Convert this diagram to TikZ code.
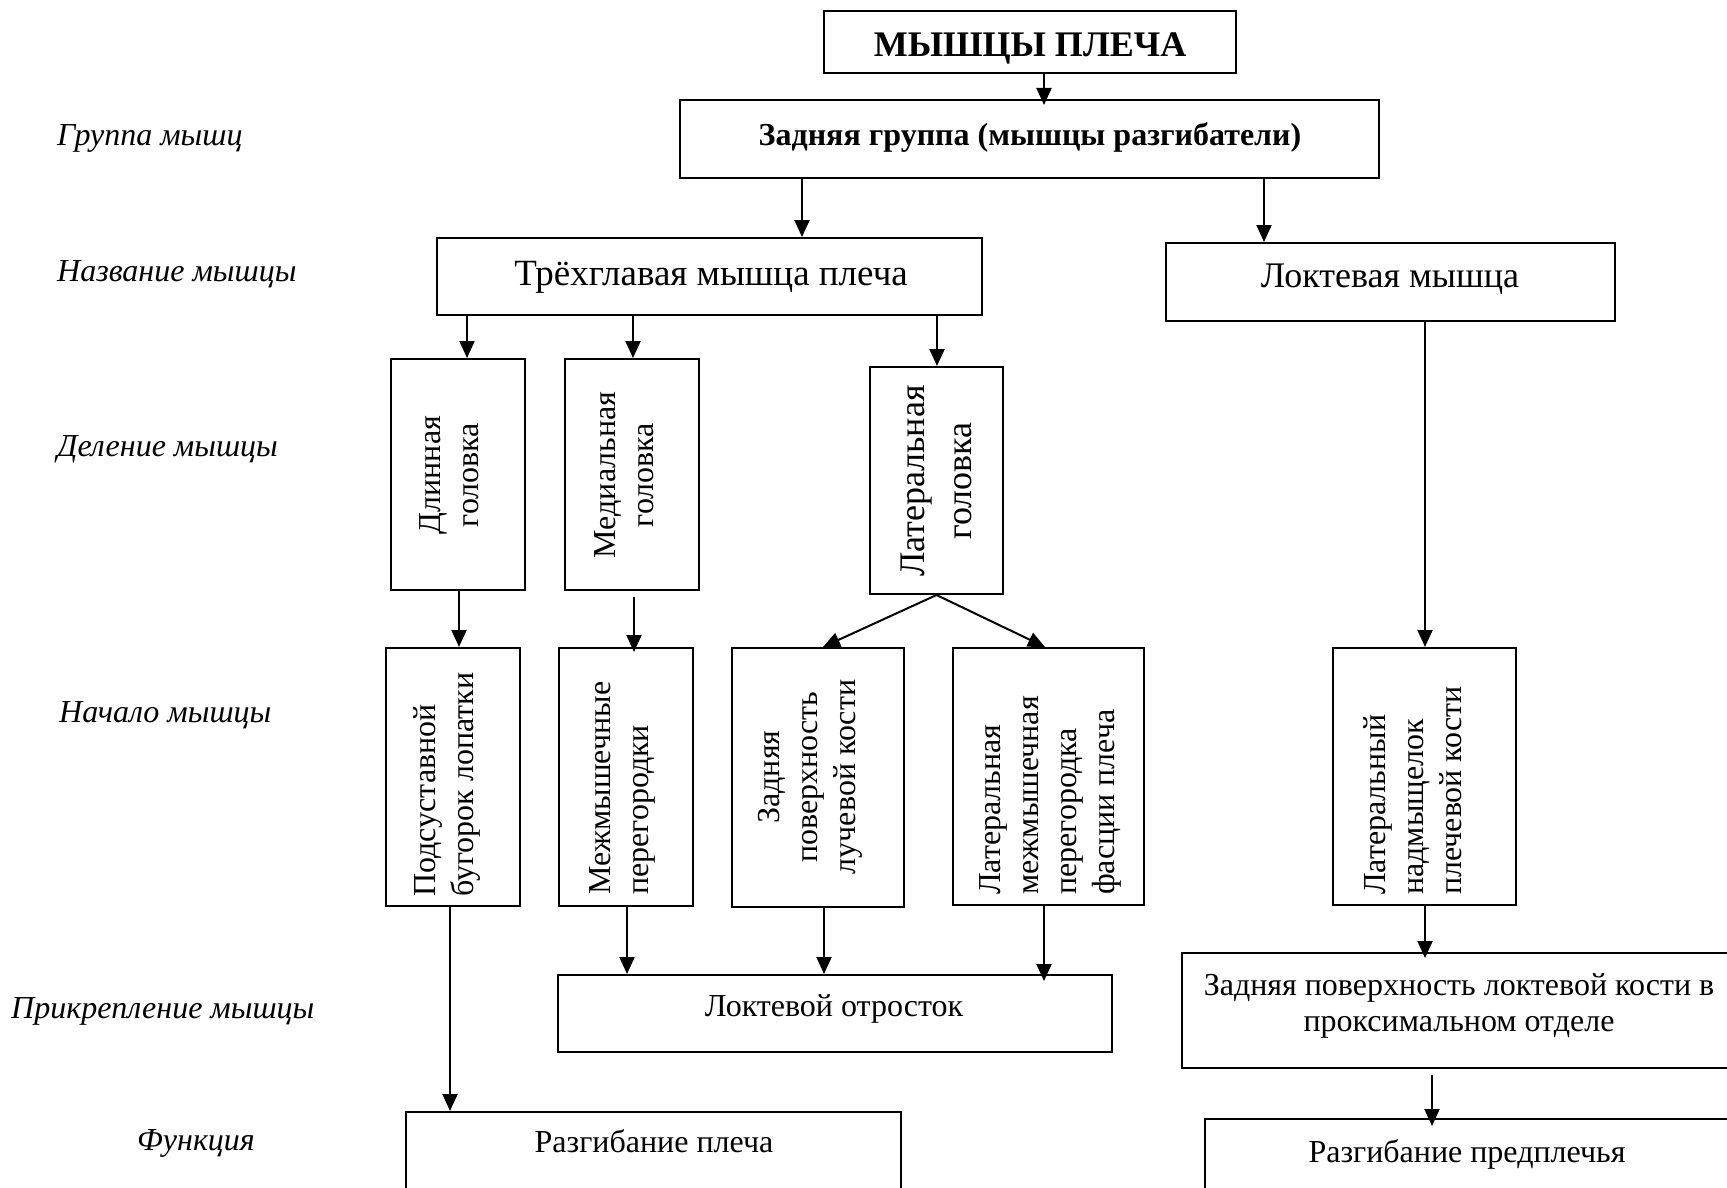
\documentclass[tikz,border=0pt]{standalone}
\usepackage{fontspec}
\setmainfont{Liberation Serif}
\usetikzlibrary{arrows.meta}

\tikzset{
  box/.style={draw, line width=2pt, inner sep=0pt},
  tn/.style={font=\fontsize{32}{38}\selectfont, inner sep=0pt},
  tb/.style={font=\fontsize{36}{46}\selectfont, inner sep=0pt},
  vert/.style={rotate=90, align=center},
  vertleft/.style={rotate=90, align=left, anchor=west},
  side/.style={font=\fontsize{32}{38}\selectfont\itshape, anchor=west, inner sep=0pt},
  arr/.style={line width=2pt, -{Triangle[length=17pt,width=15pt]}},
}

\begin{document}
\begin{tikzpicture}[x=1pt, y=-1pt]
\clip (0,0) rectangle (1727,1188);
\fill[white] (0,0) rectangle (1727,1188);

% row labels
\node[side] (lab1) at (57,138.5) {Группа мышц};
\node[side] (lab2) at (57,274) {Название мышцы};
\node[side] (lab3) at (57,449) {Деление мышцы};
\node[side] (lab4) at (59,715) {Начало мышцы};
\node[side] (lab5) at (11,1011) {Прикрепление мышцы};
\node[side] (lab6) at (137,1143) {Функция};

% frames
\node[box, minimum width=412pt, minimum height=62pt] (title) at (1030,42) {};
\node[box, minimum width=699pt, minimum height=78pt] (grp) at (1029.5,139) {};
\node[box, minimum width=545pt, minimum height=77pt] (tri) at (709.5,276.5) {};
\node[box, minimum width=449pt, minimum height=78pt] (anc) at (1390.5,282) {};
\node[box, minimum width=134pt, minimum height=231pt] (dl) at (458,474.5) {};
\node[box, minimum width=134pt, minimum height=231pt] (md) at (632,474.5) {};
\node[box, minimum width=133pt, minimum height=227pt] (lt) at (936.5,480.5) {};
\node[box, minimum width=134pt, minimum height=258pt] (ps) at (453,777) {};
\node[box, minimum width=134pt, minimum height=258pt] (mm) at (626,777) {};
\node[box, minimum width=172pt, minimum height=259pt] (zl) at (818,777.5) {};
\node[box, minimum width=191pt, minimum height=257pt] (lm) at (1048.5,776.5) {};
\node[box, minimum width=183pt, minimum height=257pt] (nd) at (1424.5,776.5) {};
\node[box, minimum width=554pt, minimum height=77pt] (lo) at (835,1013.5) {};
\node[box, minimum width=563pt, minimum height=115pt] (zk) at (1463.5,1010.5) {};
\node[box, minimum width=495pt, minimum height=88pt] (rp) at (653.5,1156) {};
\node[box, minimum width=540pt, minimum height=81pt] (rpp) at (1475,1159.5) {};

% texts of the frames
\node[tb, font=\fontsize{36}{46}\selectfont\bfseries] (title-t) at (1030,48) {МЫШЦЫ ПЛЕЧА};
\node[tn, font=\fontsize{32}{38}\selectfont\bfseries] (grp-t) at (1030,137.5) {Задняя группа (мышцы разгибатели)};
\node[tb, font=\fontsize{37}{46}\selectfont] (tri-t) at (711,277.5) {Трёхглавая мышца плеча};
\node[tb] (anc-t) at (1390,279) {Локтевая мышца};
\node[tn, vert] (dl-t) at (449.5,475) {Длинная\\головка};
\node[tn, vert] (md-t) at (624.5,475) {Медиальная\\головка};
\node[tb, vert, font=\fontsize{36}{47}\selectfont] (lt-t) at (936,481) {Латеральная\\головка};
\node[tn, vertleft] (ps-t) at (447,897) {Подсуставной\\бугорок лопатки};
\node[tn, vertleft] (mm-t) at (622,895) {Межмышечные\\перегородки};
\node[tn, vert] (zl-t) at (810,777) {Задняя\\поверхность\\лучевой кости};
\node[tn, vertleft] (lm-t) at (1050.5,895) {Латеральная\\межмышечная\\перегородка\\фасции плеча};
\node[tn, vertleft] (nd-t) at (1412.5,895) {Латеральный\\надмыщелок\\плечевой кости};
\node[tn] (lo-t) at (834,1009) {Локтевой отросток};
\node[tn, align=center, font=\fontsize{32}{36}\selectfont] (zk-t) at (1459,1006) {Задняя поверхность локтевой кости в\\проксимальном отделе};
\node[tn] (rp-t) at (654,1141) {Разгибание плеча};
\node[tn] (rpp-t) at (1467,1154) {Разгибание предплечья};

% connectors
\draw[arr, shorten >=-6pt] (1044,0 |- title.south) -- (1044,0 |- grp.north);
\draw[arr] (802,0 |- grp.south) -- (802,0 |- tri.north);
\draw[arr] (1264,0 |- grp.south) -- (1264,0 |- anc.north);
\draw[arr] (467,0 |- tri.south) -- (467,0 |- dl.north);
\draw[arr] (633,0 |- tri.south) -- (633,0 |- md.north);
\draw[arr] (937,0 |- tri.south) -- (937,0 |- lt.north);
\draw[arr] (459,0 |- dl.south) -- (459,0 |- ps.north);
\draw[arr, shorten <=6pt, shorten >=-5pt] (634,0 |- md.south) -- (634,0 |- mm.north);
\draw[arr] (lt.south) -- (823,0 |- zl.north);
\draw[arr] (lt.south) -- (1045,0 |- lm.north);
\draw[arr] (1425,0 |- anc.south) -- (1425,0 |- nd.north);
\draw[arr] (450,0 |- ps.south) -- (450,0 |- rp.north);
\draw[arr] (627,0 |- mm.south) -- (627,0 |- lo.north);
\draw[arr] (824,0 |- zl.south) -- (824,0 |- lo.north);
\draw[arr, shorten >=-7pt] (1044,0 |- lm.south) -- (1044,0 |- lo.north);
\draw[arr, shorten >=-6pt] (1425,0 |- nd.south) -- (1425,0 |- zk.north);
\draw[arr, shorten <=6pt, shorten >=-8pt] (1432,0 |- zk.south) -- (1432,0 |- rpp.north);
\end{tikzpicture}
\end{document}
